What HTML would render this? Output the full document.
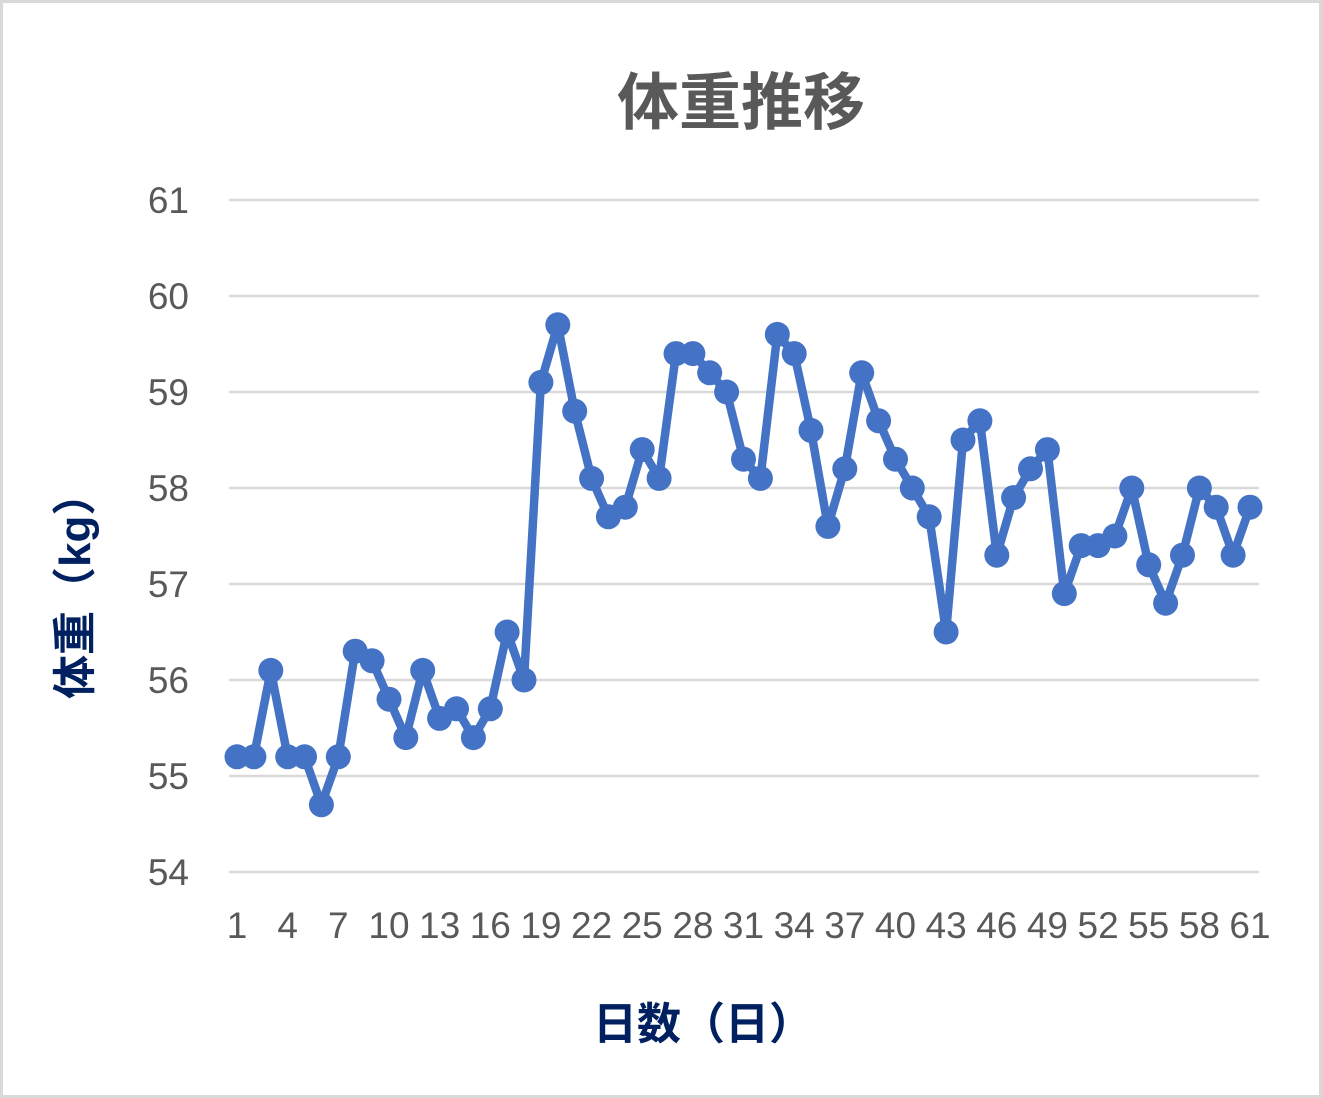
<!DOCTYPE html>
<html>
<head>
<meta charset="utf-8">
<style>
  html, body { margin: 0; padding: 0; background: #ffffff; }
  body { width: 1322px; height: 1098px; overflow: hidden; }
  svg { display: block; }
  .tick { font-family: "Liberation Sans", "Noto Sans CJK JP", sans-serif; font-size: 37px; fill: #595959; }
  .title { font-family: "Liberation Sans", "Noto Sans CJK JP", sans-serif; font-size: 62px; font-weight: bold; fill: #595959; }
  .axt { font-family: "Liberation Sans", "Noto Sans CJK JP", sans-serif; font-size: 44px; font-weight: bold; fill: #002060; }
</style>
</head>
<body>
<svg width="1322" height="1098" viewBox="0 0 1322 1098" xmlns="http://www.w3.org/2000/svg">
  <rect x="0" y="0" width="1322" height="1098" fill="#ffffff"/>
  <rect x="1.5" y="1.5" width="1319" height="1095" fill="none" stroke="#d9d9d9" stroke-width="3"/>

  <text class="title" x="741" y="124" text-anchor="middle">体重推移</text>

  <g stroke="#d9d9d9" stroke-width="2.5">
    <line x1="229" y1="200" x2="1259" y2="200"/>
    <line x1="229" y1="296" x2="1259" y2="296"/>
    <line x1="229" y1="392" x2="1259" y2="392"/>
    <line x1="229" y1="488" x2="1259" y2="488"/>
    <line x1="229" y1="584" x2="1259" y2="584"/>
    <line x1="229" y1="680" x2="1259" y2="680"/>
    <line x1="229" y1="776" x2="1259" y2="776"/>
    <line x1="229" y1="872" x2="1259" y2="872"/>
  </g>

  <g class="tick" text-anchor="end">
    <text x="189" y="213">61</text>
    <text x="189" y="309">60</text>
    <text x="189" y="405">59</text>
    <text x="189" y="501">58</text>
    <text x="189" y="597">57</text>
    <text x="189" y="693">56</text>
    <text x="189" y="789">55</text>
    <text x="189" y="885">54</text>
  </g>

  <g class="tick" text-anchor="middle">
    <text x="237.0" y="938">1</text>
    <text x="287.7" y="938">4</text>
    <text x="338.3" y="938">7</text>
    <text x="389.0" y="938">10</text>
    <text x="439.6" y="938">13</text>
    <text x="490.3" y="938">16</text>
    <text x="540.9" y="938">19</text>
    <text x="591.6" y="938">22</text>
    <text x="642.2" y="938">25</text>
    <text x="692.9" y="938">28</text>
    <text x="743.5" y="938">31</text>
    <text x="794.2" y="938">34</text>
    <text x="844.8" y="938">37</text>
    <text x="895.5" y="938">40</text>
    <text x="946.1" y="938">43</text>
    <text x="996.8" y="938">46</text>
    <text x="1047.4" y="938">49</text>
    <text x="1098.1" y="938">52</text>
    <text x="1148.7" y="938">55</text>
    <text x="1199.4" y="938">58</text>
    <text x="1250.0" y="938">61</text>
  </g>

  <text class="axt" x="593" y="1039">日数（日）</text>
  <text class="axt" x="90" y="699" transform="rotate(-90 90 699)">体重（kg）</text>

  <polyline fill="none" stroke="#4472c4" stroke-width="8.5" stroke-linejoin="round" stroke-linecap="round"
    points="237.0,756.8 253.9,756.8 270.8,670.4 287.7,756.8 304.5,756.8 321.4,804.8 338.3,756.8 355.2,651.2 372.1,660.8 389.0,699.2 405.8,737.6 422.7,670.4 439.6,718.4 456.5,708.8 473.4,737.6 490.3,708.8 507.1,632 524.0,680 540.9,382.4 557.8,324.8 574.7,411.2 591.6,478.4 608.4,516.8 625.3,507.2 642.2,449.6 659.1,478.4 676.0,353.6 692.9,353.6 709.7,372.8 726.6,392 743.5,459.2 760.4,478.4 777.3,334.4 794.2,353.6 811.0,430.4 827.9,526.4 844.8,468.8 861.7,372.8 878.6,420.8 895.5,459.2 912.3,488 929.2,516.8 946.1,632 963.0,440 979.9,420.8 996.8,555.2 1013.6,497.6 1030.5,468.8 1047.4,449.6 1064.3,593.6 1081.2,545.6 1098.1,545.6 1114.9,536 1131.8,488 1148.7,564.8 1165.6,603.2 1182.5,555.2 1199.4,488 1216.2,507.2 1233.1,555.2 1250.0,507.2"/>

  <g fill="#4472c4">
    <circle cx="237.0" cy="756.8" r="12.5"/>
    <circle cx="253.9" cy="756.8" r="12.5"/>
    <circle cx="270.8" cy="670.4" r="12.5"/>
    <circle cx="287.7" cy="756.8" r="12.5"/>
    <circle cx="304.5" cy="756.8" r="12.5"/>
    <circle cx="321.4" cy="804.8" r="12.5"/>
    <circle cx="338.3" cy="756.8" r="12.5"/>
    <circle cx="355.2" cy="651.2" r="12.5"/>
    <circle cx="372.1" cy="660.8" r="12.5"/>
    <circle cx="389.0" cy="699.2" r="12.5"/>
    <circle cx="405.8" cy="737.6" r="12.5"/>
    <circle cx="422.7" cy="670.4" r="12.5"/>
    <circle cx="439.6" cy="718.4" r="12.5"/>
    <circle cx="456.5" cy="708.8" r="12.5"/>
    <circle cx="473.4" cy="737.6" r="12.5"/>
    <circle cx="490.3" cy="708.8" r="12.5"/>
    <circle cx="507.1" cy="632" r="12.5"/>
    <circle cx="524.0" cy="680" r="12.5"/>
    <circle cx="540.9" cy="382.4" r="12.5"/>
    <circle cx="557.8" cy="324.8" r="12.5"/>
    <circle cx="574.7" cy="411.2" r="12.5"/>
    <circle cx="591.6" cy="478.4" r="12.5"/>
    <circle cx="608.4" cy="516.8" r="12.5"/>
    <circle cx="625.3" cy="507.2" r="12.5"/>
    <circle cx="642.2" cy="449.6" r="12.5"/>
    <circle cx="659.1" cy="478.4" r="12.5"/>
    <circle cx="676.0" cy="353.6" r="12.5"/>
    <circle cx="692.9" cy="353.6" r="12.5"/>
    <circle cx="709.7" cy="372.8" r="12.5"/>
    <circle cx="726.6" cy="392" r="12.5"/>
    <circle cx="743.5" cy="459.2" r="12.5"/>
    <circle cx="760.4" cy="478.4" r="12.5"/>
    <circle cx="777.3" cy="334.4" r="12.5"/>
    <circle cx="794.2" cy="353.6" r="12.5"/>
    <circle cx="811.0" cy="430.4" r="12.5"/>
    <circle cx="827.9" cy="526.4" r="12.5"/>
    <circle cx="844.8" cy="468.8" r="12.5"/>
    <circle cx="861.7" cy="372.8" r="12.5"/>
    <circle cx="878.6" cy="420.8" r="12.5"/>
    <circle cx="895.5" cy="459.2" r="12.5"/>
    <circle cx="912.3" cy="488" r="12.5"/>
    <circle cx="929.2" cy="516.8" r="12.5"/>
    <circle cx="946.1" cy="632" r="12.5"/>
    <circle cx="963.0" cy="440" r="12.5"/>
    <circle cx="979.9" cy="420.8" r="12.5"/>
    <circle cx="996.8" cy="555.2" r="12.5"/>
    <circle cx="1013.6" cy="497.6" r="12.5"/>
    <circle cx="1030.5" cy="468.8" r="12.5"/>
    <circle cx="1047.4" cy="449.6" r="12.5"/>
    <circle cx="1064.3" cy="593.6" r="12.5"/>
    <circle cx="1081.2" cy="545.6" r="12.5"/>
    <circle cx="1098.1" cy="545.6" r="12.5"/>
    <circle cx="1114.9" cy="536" r="12.5"/>
    <circle cx="1131.8" cy="488" r="12.5"/>
    <circle cx="1148.7" cy="564.8" r="12.5"/>
    <circle cx="1165.6" cy="603.2" r="12.5"/>
    <circle cx="1182.5" cy="555.2" r="12.5"/>
    <circle cx="1199.4" cy="488" r="12.5"/>
    <circle cx="1216.2" cy="507.2" r="12.5"/>
    <circle cx="1233.1" cy="555.2" r="12.5"/>
    <circle cx="1250.0" cy="507.2" r="12.5"/>
  </g>
</svg>
</body>
</html>
